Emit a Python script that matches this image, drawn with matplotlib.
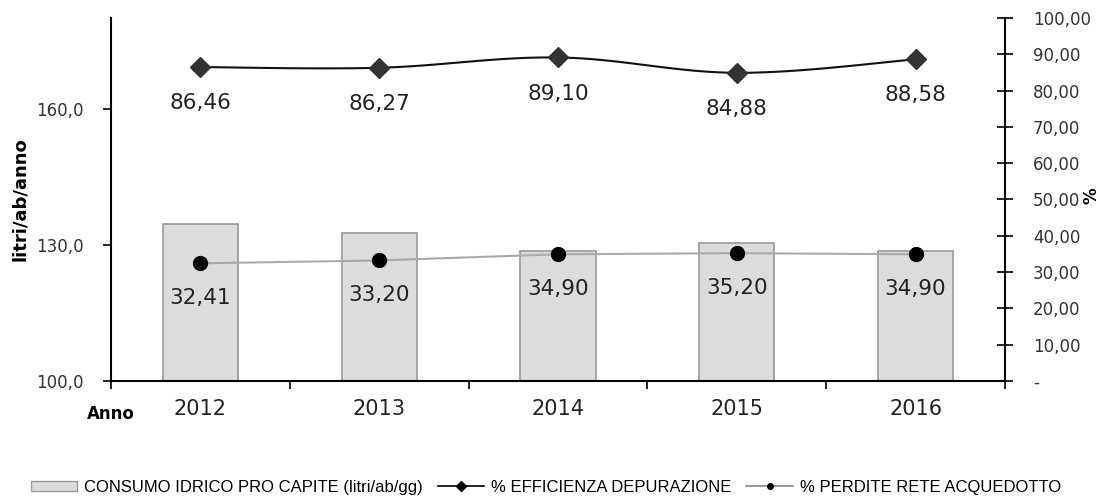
import numpy as np
import matplotlib
matplotlib.use('Agg')
import matplotlib.pyplot as plt
from matplotlib.patches import Patch
from matplotlib.lines import Line2D

anni = ['2012', '2013', '2014', '2015', '2016']
consumo = [134.5, 132.7, 128.7, 130.4, 128.7]
efficienza = [86.46, 86.27, 89.10, 84.88, 88.58]
perdite = [32.41, 33.20, 34.90, 35.20, 34.90]


def fmt_it(v, dec):
    return f'{v:.{dec}f}'.replace('.', ',')


def smooth(xs, ys, n=30, k=0.35):
    # curva smussata tipo Excel (Catmull-Rom con tensione ridotta)
    xs = np.asarray(xs, float)
    ys = np.asarray(ys, float)
    px = np.concatenate([[xs[0]], xs, [xs[-1]]])
    py = np.concatenate([[ys[0]], ys, [ys[-1]]])
    ox, oy = [], []
    t = np.linspace(0, 1, n)
    for i in range(1, len(px) - 2):
        for p, out in ((px, ox), (py, oy)):
            p0, p1, p2, p3 = p[i - 1], p[i], p[i + 1], p[i + 2]
            c1 = p1 + (p2 - p0) * k / 2
            c2 = p2 - (p3 - p1) * k / 2
            out.extend((1 - t) ** 3 * p1 + 3 * (1 - t) ** 2 * t * c1
                       + 3 * (1 - t) * t ** 2 * c2 + t ** 3 * p2)
    return ox, oy


x = np.arange(len(anni))

fig = plt.figure(figsize=(11.05, 4.96), dpi=100)
ax = fig.add_axes([0.1005, 0.2319, 0.809, 0.732])
ax2 = ax.twinx()

ax.bar(x, consumo, width=0.42, bottom=0, color='#dcdcdc', edgecolor='#999999',
       linewidth=1.2, zorder=1)
ax.set_ylim(100, 180)
ax.set_xlim(-0.5, len(anni) - 0.5)
ax.set_yticks([100, 130, 160])
ax.set_yticklabels([fmt_it(v, 1) for v in [100, 130, 160]], fontsize=12, color='#333333')
ax.set_xticks(x)
ax.set_xticklabels(anni, fontsize=15, color='#222222')
ax.set_xticks(np.arange(len(anni) + 1) - 0.5, minor=True)
ax.tick_params(axis='x', which='major', length=0, pad=13)
ax.tick_params(axis='x', which='minor', length=6, width=1.2, direction='out')
ax.tick_params(axis='y', length=6, width=1.2, direction='out', pad=14)
ax.set_ylabel('litri/ab/anno', fontsize=13, fontweight='bold')
ax.yaxis.set_label_coords(-0.092, 0.5)
ax.text(0.027, -0.09, 'Anno', transform=ax.transAxes, ha='right', va='center',
        fontsize=12, fontweight='bold')

for side in ['top', 'right']:
    ax.spines[side].set_visible(False)
ax.spines['left'].set_linewidth(1.5)
ax.spines['bottom'].set_linewidth(1.5)
for side in ['top', 'left', 'bottom']:
    ax2.spines[side].set_visible(False)
ax2.spines['right'].set_linewidth(1.5)

ax2.set_ylim(0, 100)
ticks2 = np.arange(0, 101, 10)
ax2.set_yticks(ticks2)
ax2.set_yticklabels(['-'] + [fmt_it(v, 2) for v in ticks2[1:]], fontsize=12, color='#333333')
ax2.tick_params(axis='y', length=12, width=1.2, direction='inout', pad=14)
ax2.text(1.097, 0.51, '%', transform=ax2.transAxes, rotation=90, ha='center',
         va='center', fontsize=12, fontweight='bold')

sx, sy = smooth(x, efficienza)
ax2.plot(sx, sy, color='#111111', linewidth=1.5, zorder=3)
ax2.plot(x, efficienza, linestyle='none', marker='D', markersize=10,
         color='#333333', zorder=4)
ax2.plot(x, perdite, color='#aaaaaa', linewidth=1.5, marker='o', markersize=10,
         markerfacecolor='black', markeredgecolor='black', zorder=4)

for xi, v in zip(x, efficienza):
    ax2.annotate(fmt_it(v, 2), (xi, v), xytext=(0, -26), textcoords='offset points',
                 ha='center', va='center', fontsize=15.5, color='#222222')
for xi, v in zip(x, perdite):
    ax2.annotate(fmt_it(v, 2), (xi, v), xytext=(0, -25), textcoords='offset points',
                 ha='center', va='center', fontsize=15.5, color='#222222')

handles = [
    Patch(facecolor='#dcdcdc', edgecolor='#999999', label='CONSUMO IDRICO PRO CAPITE (litri/ab/gg)'),
    Line2D([], [], color='black', marker='D', markersize=5, linewidth=1.2,
           label='% EFFICIENZA DEPURAZIONE'),
    Line2D([], [], color='#888888', marker='o', markersize=4, markerfacecolor='black',
           markeredgecolor='black', linewidth=1.2, label='% PERDITE RETE ACQUEDOTTO'),
]
fig.legend(handles=handles, loc='center', bbox_to_anchor=(0.494, 0.018), ncol=3,
           frameon=False, prop={'family': ['Liberation Sans', 'DejaVu Sans'], 'size': 12},
           handlelength=2.8, handleheight=0.55, columnspacing=0.9, handletextpad=0.4)

fig.savefig('out.png', dpi=100)
